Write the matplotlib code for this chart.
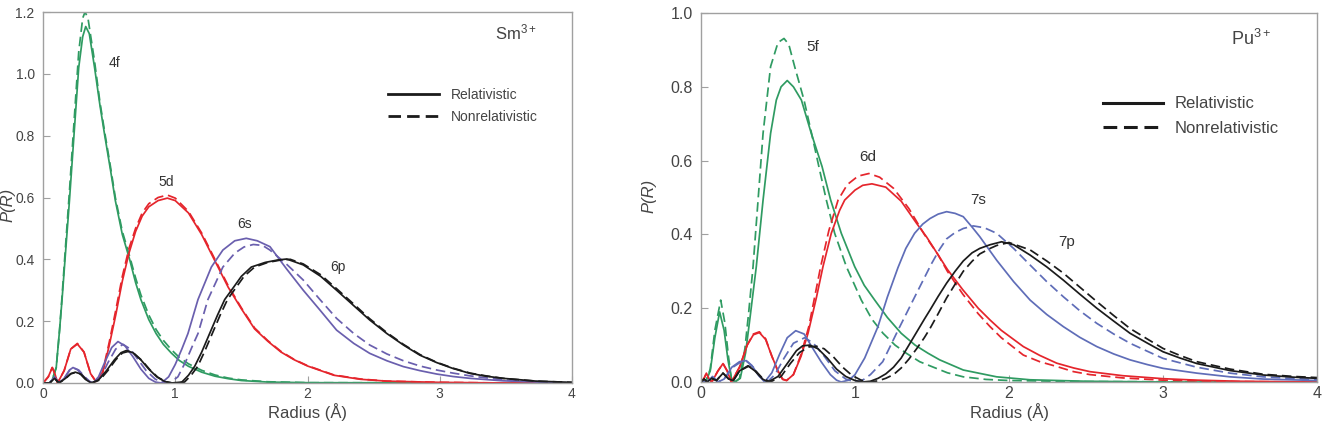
import matplotlib
matplotlib.use("Agg")
import matplotlib.pyplot as plt
from matplotlib.lines import Line2D

plt.rcParams['font.family'] = ['Liberation Sans', 'DejaVu Sans']
plt.rcParams['mathtext.default'] = 'regular'

# ---------------- Sm3+ (left panel) ----------------
sm_4f_rel_r = [0, 0.05, 0.07, 0.10, 0.125, 0.144, 0.17, 0.20, 0.234, 0.27, 0.30, 0.323, 0.35, 0.39, 0.43, 0.467,
               0.51, 0.547, 0.60, 0.655, 0.70, 0.74, 0.80, 0.855, 0.91, 0.97, 1.03, 1.10, 1.20, 1.30, 1.40, 1.50,
               1.70, 2.00, 4.00]
sm_4f_rel_p = [0, 0, 0.01, 0.05, 0.17, 0.27, 0.42, 0.59, 0.80, 1.02, 1.12, 1.153, 1.13, 1.02, 0.90, 0.80,
               0.69, 0.59, 0.48, 0.40, 0.325, 0.27, 0.205, 0.16, 0.125, 0.097, 0.073, 0.054, 0.035, 0.022, 0.014, 0.008,
               0.003, 0.001, 0]
sm_4f_non_r = [0, 0.05, 0.07, 0.10, 0.125, 0.144, 0.17, 0.20, 0.234, 0.27, 0.30, 0.318, 0.34, 0.39, 0.43, 0.467,
               0.51, 0.547, 0.60, 0.655, 0.70, 0.74, 0.80, 0.855, 0.91, 0.97, 1.03, 1.10, 1.20, 1.30, 1.40, 1.50,
               1.70, 2.00, 4.00]
sm_4f_non_p = [0, 0, 0.01, 0.05, 0.17, 0.28, 0.44, 0.62, 0.84, 1.07, 1.18, 1.20, 1.18, 1.04, 0.91, 0.81,
               0.70, 0.60, 0.49, 0.41, 0.34, 0.285, 0.22, 0.173, 0.138, 0.108, 0.083, 0.062, 0.041, 0.026, 0.016, 0.010,
               0.004, 0.001, 0]

sm_5d_rel_r = [0, 0.04, 0.07, 0.09, 0.11, 0.16, 0.21, 0.26, 0.31, 0.36, 0.40, 0.45, 0.50, 0.55, 0.60, 0.65,
               0.70, 0.75, 0.80, 0.87, 0.94, 1.0, 1.1, 1.2, 1.3, 1.4, 1.5, 1.6, 1.7, 1.8, 1.9, 2.0, 2.2, 2.4, 2.6,
               3.0, 3.5, 4.0]
sm_5d_rel_p = [0, 0.02, 0.05, 0.03, 0, 0.04, 0.11, 0.126, 0.10, 0.03, 0.005, 0.03, 0.12, 0.22, 0.33, 0.42,
               0.49, 0.54, 0.57, 0.59, 0.598, 0.59, 0.55, 0.48, 0.395, 0.31, 0.24, 0.175, 0.135, 0.10, 0.075, 0.055,
               0.025, 0.012, 0.006, 0.002, 0, 0]
sm_5d_non_r = sm_5d_rel_r
sm_5d_non_p = [0, 0.02, 0.05, 0.03, 0, 0.04, 0.11, 0.128, 0.10, 0.03, 0.005, 0.035, 0.13, 0.235, 0.345, 0.435,
               0.50, 0.55, 0.58, 0.60, 0.608, 0.598, 0.555, 0.485, 0.40, 0.315, 0.243, 0.178, 0.137, 0.102, 0.076,
               0.056, 0.026, 0.013, 0.006, 0.002, 0, 0]

sm_6s_rel_r = [0, 0.05, 0.088, 0.12, 0.16, 0.20, 0.227, 0.26, 0.31, 0.35, 0.378, 0.42, 0.47, 0.52, 0.567, 0.62,
               0.68, 0.74, 0.80, 0.85, 0.895, 0.95, 1.00, 1.05, 1.096, 1.172, 1.273, 1.36, 1.45, 1.537, 1.62, 1.716,
               1.84, 1.968, 2.094, 2.22, 2.35, 2.47, 2.6, 2.725, 2.85, 2.977, 3.1, 3.23, 3.48, 3.75, 4.0]
sm_6s_rel_p = [0, 0, 0.02, 0, 0.015, 0.042, 0.05, 0.043, 0.02, 0.004, 0, 0.02, 0.07, 0.115, 0.134, 0.12,
               0.085, 0.045, 0.015, 0.003, 0, 0.02, 0.06, 0.11, 0.16, 0.27, 0.375, 0.43, 0.46, 0.468, 0.46, 0.441,
               0.37, 0.30, 0.236, 0.171, 0.128, 0.096, 0.072, 0.053, 0.04, 0.029, 0.021, 0.015, 0.007, 0.003, 0]
sm_6s_non_r = [0, 0.05, 0.088, 0.12, 0.16, 0.20, 0.235, 0.27, 0.32, 0.36, 0.39, 0.44, 0.49, 0.55, 0.605, 0.66,
               0.72, 0.78, 0.85, 0.92, 0.96, 1.02, 1.08, 1.13, 1.172, 1.247, 1.36, 1.45, 1.52, 1.59, 1.66, 1.716,
               1.84, 1.968, 2.094, 2.22, 2.35, 2.47, 2.6, 2.725, 2.85, 2.977, 3.1, 3.23, 3.48, 3.75, 4.0]
sm_6s_non_p = [0, 0, 0.018, 0, 0.014, 0.04, 0.048, 0.042, 0.018, 0.003, 0, 0.02, 0.065, 0.11, 0.125, 0.11,
               0.075, 0.04, 0.012, 0.001, 0, 0.02, 0.07, 0.12, 0.16, 0.27, 0.375, 0.42, 0.44, 0.448, 0.445, 0.43,
               0.385, 0.333, 0.27, 0.209, 0.16, 0.123, 0.094, 0.072, 0.055, 0.042, 0.032, 0.023, 0.01, 0.004, 0]

sm_6p_rel_r = [0, 0.05, 0.088, 0.12, 0.17, 0.21, 0.244, 0.28, 0.32, 0.365, 0.42, 0.48, 0.54, 0.59, 0.63, 0.68,
               0.74, 0.80, 0.86, 0.92, 0.97, 1.05, 1.10, 1.147, 1.20, 1.26, 1.32, 1.374, 1.45, 1.50, 1.575, 1.68,
               1.777, 1.843, 1.968, 2.10, 2.22, 2.35, 2.47, 2.6, 2.725, 2.85, 2.977, 3.1, 3.23, 3.35, 3.48, 3.73, 4.0]
sm_6p_rel_p = [0, 0, 0.015, 0, 0.015, 0.03, 0.035, 0.03, 0.012, 0, 0.01, 0.04, 0.075, 0.098, 0.105, 0.098,
               0.075, 0.045, 0.02, 0.005, 0, 0.003, 0.025, 0.054, 0.10, 0.16, 0.22, 0.27, 0.315, 0.345, 0.375, 0.39,
               0.398, 0.401, 0.382, 0.345, 0.30, 0.25, 0.204, 0.16, 0.123, 0.09, 0.066, 0.047, 0.031, 0.022, 0.015,
               0.006, 0.002]
sm_6p_non_r = [0, 0.05, 0.088, 0.12, 0.17, 0.21, 0.25, 0.29, 0.33, 0.37, 0.43, 0.49, 0.55, 0.60, 0.645, 0.69,
               0.75, 0.81, 0.87, 0.93, 0.98, 1.07, 1.12, 1.17, 1.22, 1.28, 1.34, 1.395, 1.47, 1.52, 1.60, 1.70,
               1.80, 1.87, 1.968, 2.10, 2.22, 2.35, 2.47, 2.6, 2.725, 2.85, 2.977, 3.1, 3.23, 3.35, 3.48, 3.73, 4.0]
sm_6p_non_p = [0, 0, 0.014, 0, 0.014, 0.03, 0.034, 0.028, 0.01, 0, 0.01, 0.04, 0.075, 0.097, 0.102, 0.095,
               0.072, 0.042, 0.018, 0.004, 0, 0.003, 0.025, 0.054, 0.10, 0.16, 0.22, 0.27, 0.315, 0.345, 0.375, 0.39,
               0.398, 0.40, 0.385, 0.35, 0.305, 0.255, 0.208, 0.163, 0.125, 0.092, 0.067, 0.048, 0.032, 0.023, 0.015,
               0.006, 0.002]

# ---------------- Pu3+ (right panel) ----------------
pu_5f_rel_r = [0, 0.03, 0.06, 0.09, 0.121, 0.15, 0.175, 0.197, 0.22, 0.255, 0.29, 0.32, 0.359, 0.403, 0.452,
               0.489, 0.52, 0.56, 0.60, 0.652, 0.716, 0.786, 0.842, 0.911, 0.998, 1.06, 1.128, 1.21, 1.30, 1.39,
               1.474, 1.55, 1.703, 1.92, 2.137, 2.5, 3.0, 4.0]
pu_5f_rel_p = [0, 0, 0.03, 0.12, 0.19, 0.14, 0.06, 0.01, 0, 0.01, 0.08, 0.18, 0.3126, 0.493, 0.674,
               0.764, 0.80, 0.817, 0.80, 0.764, 0.674, 0.584, 0.493, 0.403, 0.3126, 0.262, 0.222, 0.175, 0.132, 0.10,
               0.078, 0.06, 0.0325, 0.014, 0.006, 0.002, 0, 0]
pu_5f_non_r = [0, 0.03, 0.06, 0.09, 0.128, 0.155, 0.178, 0.197, 0.22, 0.25, 0.285, 0.31, 0.338, 0.37, 0.403,
               0.452, 0.50, 0.539, 0.57, 0.608, 0.669, 0.72, 0.77, 0.814, 0.868, 0.944, 1.041, 1.11, 1.182, 1.26,
               1.333, 1.42, 1.50, 1.60, 1.703, 1.85, 2.0, 2.5, 4.0]
pu_5f_non_p = [0, 0, 0.035, 0.14, 0.222, 0.16, 0.07, 0.01, 0, 0.01, 0.09, 0.19, 0.3126, 0.49, 0.674,
               0.855, 0.92, 0.931, 0.915, 0.855, 0.764, 0.67, 0.575, 0.493, 0.403, 0.3126, 0.222, 0.17, 0.132, 0.10,
               0.078, 0.055, 0.0416, 0.025, 0.014, 0.007, 0.004, 0.001, 0]

pu_6d_rel_r = [0, 0.02, 0.035, 0.05, 0.07, 0.11, 0.143, 0.17, 0.197, 0.25, 0.30, 0.34, 0.379, 0.42, 0.46, 0.50,
               0.53, 0.556, 0.60, 0.65, 0.695, 0.75, 0.792, 0.846, 0.90, 0.933, 1.0, 1.05, 1.11, 1.2, 1.3, 1.40,
               1.465, 1.539, 1.60, 1.70, 1.80, 1.877, 1.95, 2.093, 2.2, 2.31, 2.42, 2.526, 2.74, 3.0, 3.22, 3.5, 4.0]
pu_6d_rel_p = [0, 0.01, 0.024, 0.01, 0, 0.03, 0.05, 0.03, 0, 0.04, 0.10, 0.128, 0.134, 0.115, 0.07, 0.03,
               0.008, 0.004, 0.02, 0.07, 0.132, 0.23, 0.3126, 0.403, 0.465, 0.493, 0.52, 0.533, 0.537, 0.528, 0.49,
               0.43, 0.393, 0.345, 0.305, 0.25, 0.20, 0.168, 0.14, 0.096, 0.072, 0.051, 0.038, 0.028, 0.017, 0.009,
               0.005, 0.002, 0]
pu_6d_non_r = [0, 0.02, 0.035, 0.05, 0.07, 0.11, 0.143, 0.17, 0.197, 0.25, 0.30, 0.34, 0.379, 0.42, 0.46, 0.50,
               0.53, 0.556, 0.60, 0.65, 0.70, 0.777, 0.83, 0.89, 0.95, 1.02, 1.09, 1.16, 1.25, 1.35, 1.45, 1.539,
               1.60, 1.70, 1.80, 1.877, 1.95, 2.093, 2.2, 2.31, 2.42, 2.526, 2.74, 3.0, 3.5, 4.0]
pu_6d_non_p = [0, 0.01, 0.024, 0.01, 0, 0.03, 0.05, 0.03, 0, 0.04, 0.10, 0.13, 0.136, 0.117, 0.07, 0.028,
               0.007, 0.004, 0.02, 0.075, 0.15, 0.3126, 0.41, 0.493, 0.535, 0.558, 0.565, 0.555, 0.525, 0.47, 0.40,
               0.345, 0.30, 0.238, 0.185, 0.15, 0.12, 0.073, 0.055, 0.042, 0.028, 0.02, 0.011, 0.005, 0.001, 0]

pu_7s_rel_r = [0, 0.04, 0.075, 0.11, 0.15, 0.17, 0.20, 0.25, 0.294, 0.33, 0.37, 0.413, 0.46, 0.51, 0.56, 0.615,
               0.67, 0.72, 0.78, 0.84, 0.88, 0.91, 0.96, 1.0, 1.063, 1.149, 1.21, 1.279, 1.33, 1.387, 1.44, 1.487,
               1.54, 1.595, 1.65, 1.703, 1.76, 1.81, 1.92, 2.03, 2.137, 2.245, 2.353, 2.46, 2.57, 2.68, 2.786, 2.9,
               3.0, 3.22, 3.435, 3.65, 4.0]
pu_7s_rel_p = [0, 0, 0.015, 0, 0.008, 0.02, 0.04, 0.055, 0.058, 0.045, 0.02, 0, 0.025, 0.075, 0.12, 0.139,
               0.13, 0.095, 0.055, 0.02, 0.005, 0, 0.005, 0.02, 0.065, 0.15, 0.23, 0.31, 0.362, 0.403, 0.428, 0.443,
               0.455, 0.4616, 0.457, 0.448, 0.42, 0.394, 0.33, 0.272, 0.222, 0.183, 0.15, 0.121, 0.096, 0.076,
               0.06, 0.047, 0.037, 0.024, 0.014, 0.008, 0.004]
pu_7s_non_r = [0, 0.04, 0.075, 0.11, 0.15, 0.20, 0.25, 0.30, 0.34, 0.38, 0.43, 0.48, 0.54, 0.60, 0.673, 0.73,
               0.80, 0.87, 0.94, 1.0, 1.05, 1.1, 1.18, 1.279, 1.387, 1.496, 1.55, 1.595, 1.65, 1.703, 1.768, 1.84,
               1.92, 2.03, 2.137, 2.245, 2.353, 2.46, 2.57, 2.68, 2.786, 2.9, 3.0, 3.22, 3.435, 3.65, 4.0]
pu_7s_non_p = [0, 0, 0.014, 0, 0.008, 0.038, 0.052, 0.055, 0.04, 0.015, 0, 0.02, 0.065, 0.105, 0.12, 0.105,
               0.07, 0.03, 0.008, 0, 0.005, 0.02, 0.055, 0.14, 0.23, 0.32, 0.36, 0.388, 0.405, 0.416, 0.423, 0.418,
               0.403, 0.362, 0.317, 0.272, 0.231, 0.193, 0.159, 0.13, 0.105, 0.083, 0.064, 0.04, 0.024, 0.014, 0.006]

pu_7p_rel_r = [0, 0.02, 0.04, 0.07, 0.10, 0.143, 0.18, 0.21, 0.25, 0.305, 0.35, 0.40, 0.435, 0.50, 0.56, 0.62,
               0.66, 0.706, 0.76, 0.82, 0.88, 0.94, 1.0, 1.05, 1.10, 1.15, 1.20, 1.25, 1.30, 1.35, 1.40, 1.45,
               1.487, 1.54, 1.595, 1.65, 1.703, 1.76, 1.81, 1.877, 1.952, 2.03, 2.137, 2.245, 2.353, 2.46, 2.57,
               2.68, 2.786, 2.9, 3.0, 3.11, 3.22, 3.435, 3.65, 3.85, 4.0]
pu_7p_rel_p = [0, 0.008, 0, 0.01, 0.004, 0.024, 0.008, 0.004, 0.03, 0.044, 0.03, 0.008, 0, 0.015, 0.05, 0.085,
               0.098, 0.10, 0.09, 0.065, 0.035, 0.015, 0.004, 0, 0.002, 0.01, 0.022, 0.04, 0.065, 0.10, 0.135,
               0.17, 0.195, 0.232, 0.268, 0.30, 0.328, 0.35, 0.362, 0.372, 0.38, 0.372, 0.344, 0.312, 0.276, 0.238,
               0.20, 0.165, 0.132, 0.105, 0.082, 0.065, 0.05, 0.031, 0.019, 0.013, 0.01]
pu_7p_non_r = [0, 0.02, 0.04, 0.07, 0.10, 0.143, 0.18, 0.21, 0.25, 0.31, 0.355, 0.40, 0.45, 0.52, 0.58, 0.64,
               0.70, 0.749, 0.80, 0.86, 0.92, 0.98, 1.04, 1.09, 1.15, 1.20, 1.25, 1.30, 1.35, 1.40, 1.45, 1.487,
               1.54, 1.595, 1.65, 1.703, 1.76, 1.81, 1.877, 1.92, 2.0, 2.137, 2.245, 2.353, 2.46, 2.57, 2.68,
               2.786, 2.9, 3.0, 3.11, 3.22, 3.435, 3.65, 3.85, 4.0]
pu_7p_non_p = [0, 0.008, 0, 0.01, 0.004, 0.024, 0.008, 0.004, 0.03, 0.043, 0.03, 0.01, 0, 0.015, 0.05, 0.08,
               0.095, 0.097, 0.09, 0.068, 0.04, 0.018, 0.005, 0, 0.003, 0.01, 0.02, 0.038, 0.062, 0.09, 0.12,
               0.145, 0.185, 0.228, 0.265, 0.30, 0.327, 0.347, 0.362, 0.37, 0.378, 0.358, 0.328, 0.295, 0.257, 0.218,
               0.18, 0.145, 0.116, 0.091, 0.072, 0.055, 0.035, 0.021, 0.015, 0.012]

# ---------------- labels / ticks ----------------
sm_orbitals = ['4f', '5d', '6s', '6p']
pu_orbitals = ['5f', '6d', '7s', '7p']
sm_yticks = [0.0, 0.2, 0.4, 0.6, 0.8, 1.0, 1.2]
pu_yticks = [0.0, 0.2, 0.4, 0.6, 0.8, 1.0]
xticks = [0, 1, 2, 3, 4]
legend_labels = ['Relativistic', 'Nonrelativistic']

GREEN = '#2f9b62'
RED = '#e5252c'
PURPLE_L = '#6a5fae'
BLUE_R = '#5f6db8'
BLACK = '#1b1b1b'
SPINE = '#a0a0a0'
TXT = '#444444'

W, H = 1326, 428
fig = plt.figure(figsize=(W / 100, H / 100), dpi=100)

axL = fig.add_axes([43 / W, 1 - 383 / H, 529 / W, 371 / H])
axR = fig.add_axes([701 / W, 1 - 382 / H, 616 / W, 369 / H])

DASH = (0, (5.5, 2.8))
LW = 1.25

sm_curves = [
    (sm_4f_rel_r, sm_4f_rel_p, sm_4f_non_r, sm_4f_non_p, GREEN),
    (sm_5d_rel_r, sm_5d_rel_p, sm_5d_non_r, sm_5d_non_p, RED),
    (sm_6s_rel_r, sm_6s_rel_p, sm_6s_non_r, sm_6s_non_p, PURPLE_L),
    (sm_6p_rel_r, sm_6p_rel_p, sm_6p_non_r, sm_6p_non_p, BLACK),
]
pu_curves = [
    (pu_5f_rel_r, pu_5f_rel_p, pu_5f_non_r, pu_5f_non_p, GREEN),
    (pu_6d_rel_r, pu_6d_rel_p, pu_6d_non_r, pu_6d_non_p, RED),
    (pu_7s_rel_r, pu_7s_rel_p, pu_7s_non_r, pu_7s_non_p, BLUE_R),
    (pu_7p_rel_r, pu_7p_rel_p, pu_7p_non_r, pu_7p_non_p, BLACK),
]

for ax, curves in ((axL, sm_curves), (axR, pu_curves)):
    for rr, pr, rn, pn, col in curves:
        ax.plot(rn, pn, color=col, lw=LW, linestyle=DASH, solid_joinstyle='round')
        ax.plot(rr, pr, color=col, lw=LW, solid_joinstyle='round')

def style(ax, yticks, ymax, tsize):
    ax.set_xlim(0, 4)
    ax.set_ylim(0, ymax)
    ax.set_xticks(xticks)
    ax.set_xticklabels([str(t) for t in xticks])
    ax.set_yticks(yticks)
    ax.set_yticklabels(['%.1f' % t for t in yticks])
    ax.tick_params(direction='in', length=5, width=0.8, color=SPINE, labelsize=tsize,
                   labelcolor=TXT, top=False, right=False)
    ax.tick_params(axis='y', pad=6)
    ax.tick_params(axis='x', pad=3)
    for s in ax.spines.values():
        s.set_color(SPINE)
        s.set_linewidth(1.0)
    ax.set_xlabel('Radius (Å)', fontsize=12, color=TXT, labelpad=1)

style(axL, sm_yticks, 1.2, 10)
style(axR, pu_yticks, 1.0, 11.5)

# orbital labels
sm_lab_pos = [(0.544, 1.036), (0.935, 0.651), (1.527, 0.515), (2.23, 0.375)]
for name, (x, y) in zip(sm_orbitals, sm_lab_pos):
    axL.text(x, y, name, fontsize=10, color='#333333', ha='center', va='center')
pu_lab_pos = [(0.727, 0.908), (1.084, 0.61), (1.80, 0.493), (2.377, 0.379)]
for name, (x, y) in zip(pu_orbitals, pu_lab_pos):
    axR.text(x, y, name, fontsize=11, color='#333333', ha='center', va='center')

axL.text(0.895, 0.945, 'Sm$^{3+}$', transform=axL.transAxes, fontsize=12, color=TXT, ha='center', va='center')
axR.text(0.893, 0.93, 'Pu$^{3+}$', transform=axR.transAxes, fontsize=13, color=TXT, ha='center', va='center')

# legends
handles_L = [Line2D([], [], color=BLACK, lw=2.0),
             Line2D([], [], color=BLACK, lw=2.0, linestyle=(0, (4.5, 2.2)))]
axL.legend(handles_L, legend_labels, loc='upper left', bbox_to_anchor=(0.652, 0.795), frameon=False,
           fontsize=10, handlelength=3.7, handletextpad=0.8, labelspacing=0.55, borderpad=0, borderaxespad=0,
           labelcolor=TXT)
handles_R = [Line2D([], [], color=BLACK, lw=2.2),
             Line2D([], [], color=BLACK, lw=2.2, linestyle=(0, (4.5, 2.2)))]
axR.legend(handles_R, legend_labels, loc='upper left', bbox_to_anchor=(0.6526, 0.774), frameon=False,
           fontsize=12, handlelength=3.6, handletextpad=0.7, labelspacing=0.55, borderpad=0, borderaxespad=0,
           labelcolor=TXT)

# y labels
fig.text(8 / W, 1 - 205 / H, 'P(R)', rotation=90, fontsize=12, style='italic', color=TXT, ha='center', va='center')
fig.text(649 / W, 1 - 196 / H, 'P(R)', rotation=90, fontsize=12, style='italic', color=TXT, ha='center', va='center')

fig.savefig('out.png', dpi=100)
